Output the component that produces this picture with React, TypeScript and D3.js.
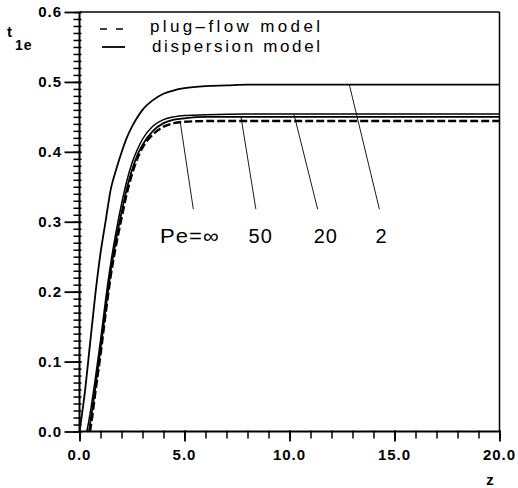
import React, { useEffect, useRef } from "react";
import * as d3 from "d3";

// ---- data ----
const zPlug = [0.5, 0.6, 0.75, 1.0, 1.25, 1.5, 1.75, 2.0, 2.25, 2.5, 2.75, 3.0, 3.5, 4.0, 4.5, 5.0, 6.0, 8.0, 20.0];
const tPlug = [0, 0.02, 0.055, 0.11, 0.17, 0.225, 0.268, 0.305, 0.34, 0.368, 0.39, 0.406, 0.425, 0.436, 0.441, 0.443, 0.444, 0.444, 0.444];

const zPe50 = [0.45, 0.6, 0.75, 1.0, 1.25, 1.5, 1.75, 2.0, 2.25, 2.5, 2.75, 3.0, 3.5, 4.0, 4.5, 5.0, 6.0, 8.0, 20.0];
const tPe50 = [0, 0.03, 0.062, 0.118, 0.177, 0.232, 0.276, 0.313, 0.347, 0.374, 0.395, 0.41, 0.43, 0.441, 0.446, 0.448, 0.45, 0.45, 0.45];

const zPe20 = [0.35, 0.5, 0.75, 1.0, 1.25, 1.5, 1.75, 2.0, 2.25, 2.5, 2.75, 3.0, 3.5, 4.0, 4.5, 5.0, 6.0, 8.0, 20.0];
const tPe20 = [0, 0.025, 0.075, 0.13, 0.19, 0.243, 0.287, 0.325, 0.358, 0.384, 0.403, 0.418, 0.437, 0.446, 0.45, 0.452, 0.453, 0.454, 0.454];

const zPe2 = [0, 0.25, 0.5, 0.75, 1.0, 1.25, 1.5, 1.75, 2.0, 2.25, 2.5, 2.75, 3.0, 3.5, 4.0, 4.5, 5.0, 6.0, 7.0, 8.0, 20.0];
const tPe2 = [0, 0.055, 0.125, 0.195, 0.255, 0.302, 0.348, 0.375, 0.399, 0.42, 0.436, 0.449, 0.46, 0.474, 0.483, 0.488, 0.491, 0.494, 0.495, 0.496, 0.496];

const xMajorTicks = [0, 5, 10, 15, 20];
const xTickLabels = ["0.0", "5.0", "10.0", "15.0", "20.0"];
const yMajorTicks = [0, 0.1, 0.2, 0.3, 0.4, 0.5, 0.6];
const yTickLabels = ["0.0", "0.1", "0.2", "0.3", "0.4", "0.5", "0.6"];

const peLabels = ["Pe=\u221e", "50", "20", "2"];
const peLabelZ = [3.83, 8.05, 11.15, 14.1];
const peLabelT = 0.27;
const leaderZ0 = [4.79, 7.69, 10.21, 12.85];
const leaderT0 = [0.444, 0.45, 0.454, 0.496];
const leaderZ1 = [5.42, 8.4, 11.34, 14.28];
const leaderT1 = 0.318;

const legendLabels = ["plug\u2013flow model", "dispersion model"];

const W = 518;
const H = 488;

export default function App() {
  const axisRef = useRef<SVGGElement>(null);
  const x = d3.scaleLinear().domain([0, 20]).range([79.5, 499.5]);
  const y = d3.scaleLinear().domain([0, 0.6]).range([431.5, 12]);

  useEffect(() => {
    const g = d3.select(axisRef.current);
    g.selectAll("*").remove();
    // y minor ticks (left side, crossing the axis a little)
    g.append("g")
      .attr("transform", `translate(${x(0) + 2},0)`)
      .call(d3.axisLeft(y).tickValues(d3.range(0, 61).map((i) => i / 100)).tickSize(8).tickFormat(() => ""))
      .call((s) => s.select(".domain").remove())
      .call((s) => s.selectAll("line").attr("stroke", "#000").attr("stroke-width", 1.5));
    g.append("g")
      .attr("transform", `translate(${x(0) + 2},0)`)
      .call(d3.axisLeft(y).tickValues(yMajorTicks).tickSize(17).tickFormat(() => ""))
      .call((s) => s.select(".domain").remove())
      .call((s) => s.selectAll("line").attr("stroke", "#000").attr("stroke-width", 1.8));
    g.append("g")
      .attr("transform", `translate(0,${y(0) - 1})`)
      .call(d3.axisBottom(x).tickValues(d3.range(0, 21)).tickSize(8).tickFormat(() => ""))
      .call((s) => s.select(".domain").remove())
      .call((s) => s.selectAll("line").attr("stroke", "#000").attr("stroke-width", 1.5));
    g.append("g")
      .attr("transform", `translate(0,${y(0) - 1})`)
      .call(d3.axisBottom(x).tickValues(xMajorTicks).tickSize(11).tickFormat(() => ""))
      .call((s) => s.select(".domain").remove())
      .call((s) => s.selectAll("line").attr("stroke", "#000").attr("stroke-width", 1.8));
  }, []);

  const line = d3
    .line<[number, number]>()
    .x((d) => x(d[0]))
    .y((d) => y(d[1]))
    .curve(d3.curveMonotoneX);

  const pts = (zs: number[], ts: number[]) => zs.map((z, i) => [z, ts[i]] as [number, number]);

  const font = "'Liberation Sans', Arial, Helvetica, sans-serif";

  return (
    <svg
      width={W}
      height={H}
      style={{ position: "absolute", left: 0, top: 0, background: "#fff" }}
      fontFamily={font}
    >
      <rect x={0} y={0} width={W} height={H} fill="#fff" />

      {/* frame */}
      <line x1={x(0)} x2={x(20)} y1={y(0.6)} y2={y(0.6)} stroke="#000" strokeWidth={1.5} />
      <line x1={x(20)} x2={x(20)} y1={y(0.6)} y2={y(0)} stroke="#000" strokeWidth={1.5} />
      <line x1={x(0)} x2={x(0)} y1={y(0.6)} y2={y(0)} stroke="#000" strokeWidth={2} />
      <line x1={x(0)} x2={x(20)} y1={y(0)} y2={y(0)} stroke="#000" strokeWidth={2} />

      <g ref={axisRef} />

      {yMajorTicks.map((v, i) => (
        <text
          key={"yl" + i}
          x={62}
          y={y(v)}
          dy="0.36em"
          textAnchor="end"
          fontSize={15}
          fontWeight="bold"
          letterSpacing={1}
        >
          {yTickLabels[i]}
        </text>
      ))}
      {xMajorTicks.map((v, i) => (
        <text key={"xl" + i} x={x(v)} y={460} textAnchor="middle" fontSize={15} fontWeight="bold" letterSpacing={1}>
          {xTickLabels[i]}
        </text>
      ))}

      {/* axis titles */}
      <text x={490} y={485} textAnchor="middle" fontSize={15} fontWeight="bold">
        z
      </text>
      <text x={7} y={37} fontSize={15} fontWeight="bold">
        t
      </text>
      <text x={15} y={50} fontSize={14} fontWeight="bold" letterSpacing={1}>
        1e
      </text>

      {/* curves */}
      <path d={line(pts(zPe2, tPe2)) || ""} fill="none" stroke="#000" strokeWidth={1.8} />
      <path d={line(pts(zPe20, tPe20)) || ""} fill="none" stroke="#000" strokeWidth={1.5} />
      <path d={line(pts(zPe50, tPe50)) || ""} fill="none" stroke="#000" strokeWidth={1.8} />
      <path
        d={line(pts(zPlug, tPlug)) || ""}
        fill="none"
        stroke="#000"
        strokeWidth={2.4}
        strokeDasharray="8,3"
      />

      {/* leader lines and Pe labels */}
      {peLabels.map((lab, i) => (
        <g key={"pe" + i}>
          <line
            x1={x(leaderZ0[i])}
            y1={y(leaderT0[i])}
            x2={x(leaderZ1[i])}
            y2={y(leaderT1)}
            stroke="#000"
            strokeWidth={0.9}
          />
          <text
            x={x(peLabelZ[i])}
            y={y(peLabelT)}
            fontSize={20}
            letterSpacing={1}
            {...(i === 0 ? { textLength: 60, lengthAdjust: "spacingAndGlyphs" } : {})}
          >
            {lab}
          </text>
        </g>
      ))}

      {/* legend */}
      <line x1={100} x2={124} y1={29} y2={29} stroke="#000" strokeWidth={1.6} strokeDasharray="7,9" />
      <text x={150} y={32} fontSize={17} textLength={170} lengthAdjust="spacing">
        {legendLabels[0]}
      </text>
      <line x1={102} x2={125} y1={47} y2={47} stroke="#000" strokeWidth={1.8} />
      <text x={152} y={52} fontSize={17} textLength={168} lengthAdjust="spacing">
        {legendLabels[1]}
      </text>
    </svg>
  );
}
